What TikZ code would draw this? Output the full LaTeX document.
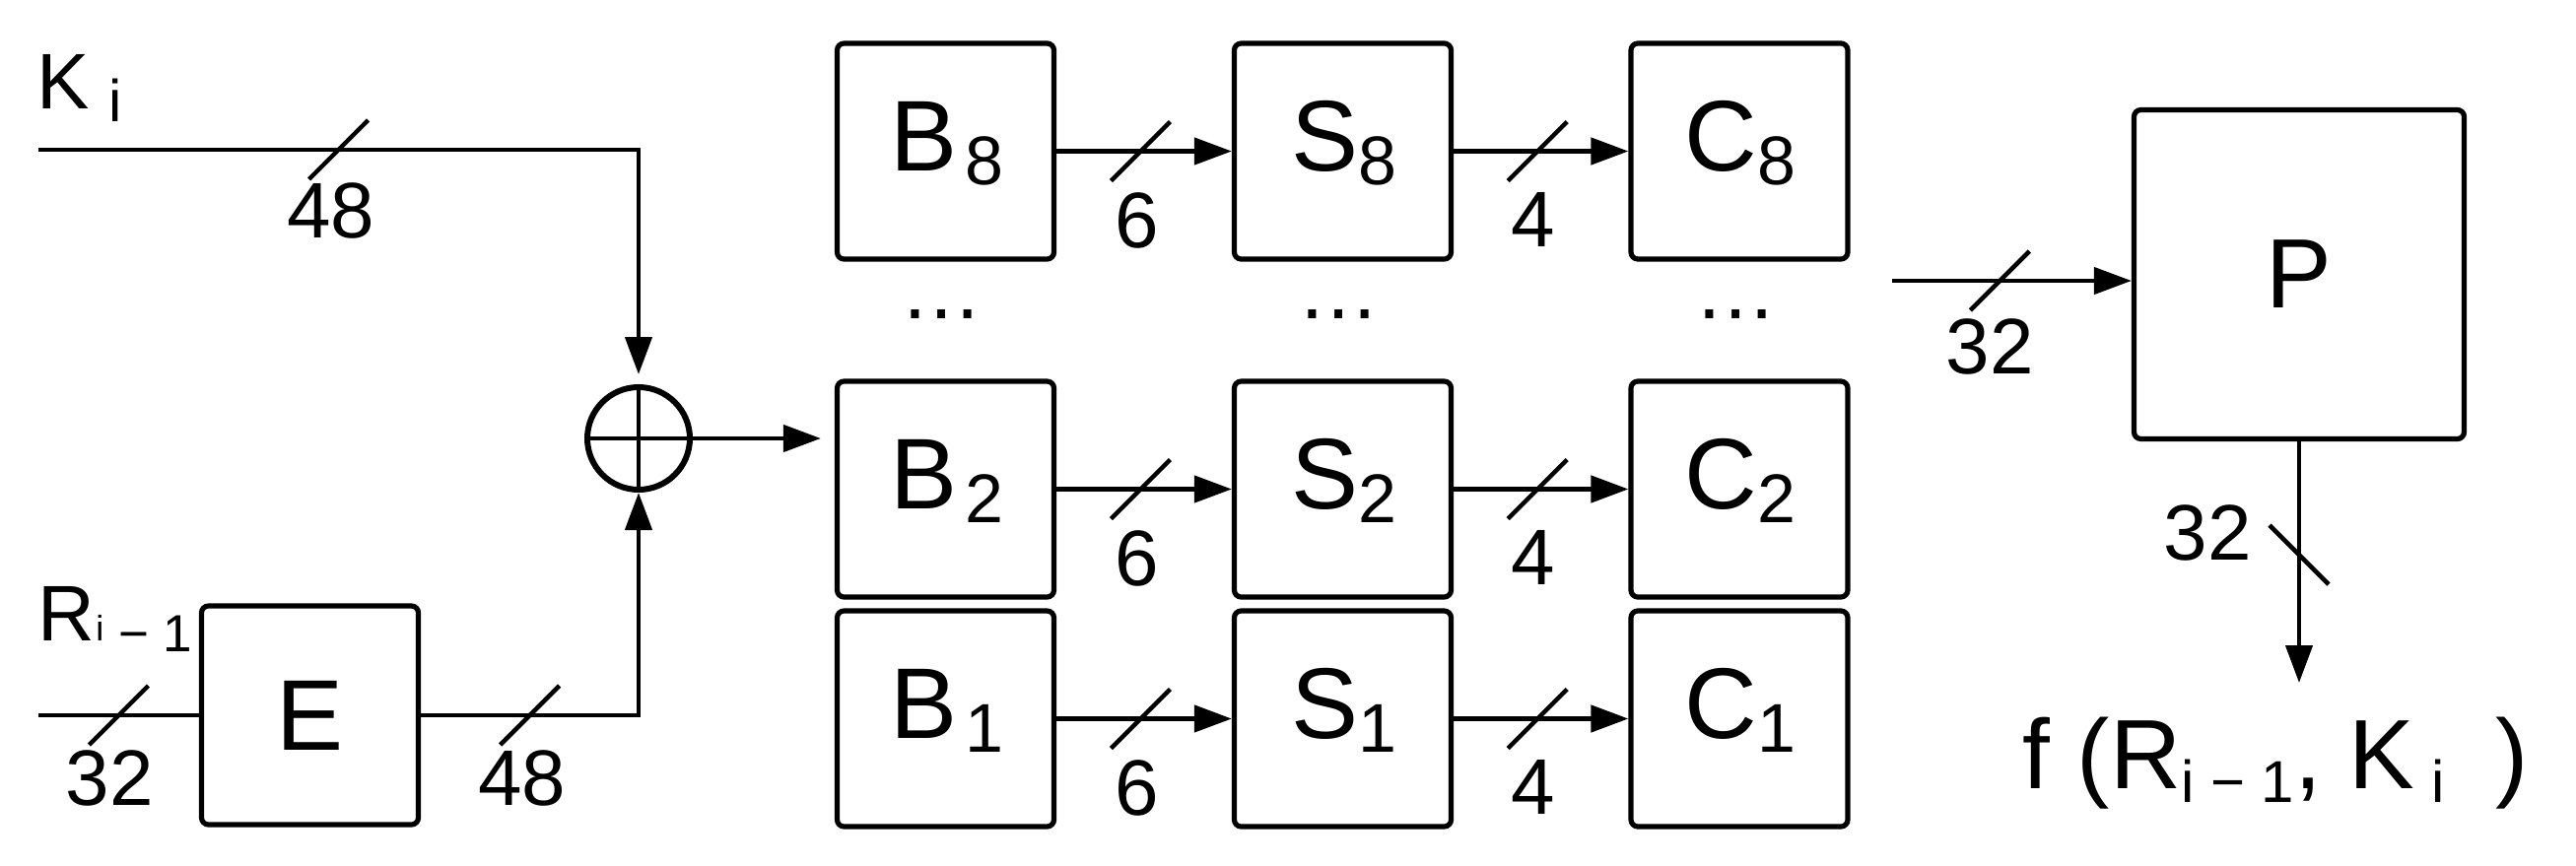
\documentclass[tikz,border=0pt]{standalone}
\usepackage{fontspec}
\setmainfont{Liberation Sans}
\usetikzlibrary{arrows.meta,calc}
\newcommand\blab[3]{{\fontsize{102}{102}\selectfont #1}\kern#3\raisebox{-14pt}{\fontsize{70}{70}\selectfont #2}}
\newcommand\fsub[1]{\raisebox{-14pt}{\fontsize{60}{60}\selectfont #1}}
\begin{document}
\begin{tikzpicture}[x=1pt,y=-1pt,
  box/.style={draw, line width=5.2pt, rounded corners=7pt, minimum width=220pt, minimum height=219pt, inner sep=0pt},
  conn/.style={line width=4.5pt},
  arr/.style={conn, -{Triangle[length=38pt,width=27pt]}},
  slashmark/.style={line width=4.5pt},
  lbl/.style={font=\fontsize{80}{80}\selectfont, inner sep=0pt},
  dots/.style={font=\fontsize{84}{84}\selectfont, inner sep=0pt, anchor=base}
]
\fill[white] (0,0) rectangle (2614,878);
\useasboundingbox (0,0) rectangle (2614,878);

% ---- boxes ----
\foreach \r/\y in {8/153.5, 2/496.5, 1/729.5}{
  \node[box] (B\r) at (959.5,\y) {};
  \node[box] (S\r) at (1362.5,\y) {};
  \node[box] (C\r) at (1765,\y) {};
}
\foreach \r/\b in {8/173, 2/516, 1/749}{
  \node[anchor=base, inner sep=0pt] (B\r t) at (961,\b) {\blab{B}{\r}{8pt}};
  \node[anchor=base, inner sep=0pt] (S\r t) at (1363.5,\b) {\blab{S}{\r}{0pt}};
  \node[anchor=base, inner sep=0pt] (C\r t) at (1766,\b) {\blab{C}{\r}{0pt}};
}
\node[dots] (dB) at (955.5,323) {…};
\node[dots] (dS) at (1358.5,323) {…};
\node[dots] (dC) at (1761,323) {…};

\node[box, minimum width=220pt, minimum height=222pt, font=\fontsize{102}{102}\selectfont] (E) at (314.5,726) {E};
\node[box, minimum width=335pt, minimum height=334pt, font=\fontsize{100}{100}\selectfont] (P) at (2333,278.5) {P};

\node[draw, circle, line width=6pt, minimum size=104pt, inner sep=0pt] (X) at (648,445) {};
\draw[line width=4pt] (X.north) -- (X.south) (X.west) -- (X.east);

% ---- input labels ----
\node[anchor=base west, inner sep=0pt] (Ki) at (37,110)
  {\fontsize{80}{80}\selectfont K\kern20pt\raisebox{-13pt}{\fontsize{60}{60}\selectfont i}};
\node[anchor=base west, inner sep=0pt] (Ri) at (38.5,650)
  {\fontsize{80}{80}\selectfont R\kern1pt{\fontsize{36}{36}\selectfont i}\raisebox{-11pt}{\fontsize{53}{53}\selectfont\ − 1}};

% ---- K input ----
\coordinate (kin) at (39,152);
\draw[arr, shorten >=10pt] (kin) -| (X.north);
\coordinate (ks) at ($(kin)!0.5!(kin -| X)$);
\draw[slashmark] (ks) ++(-30,30) -- ++(60,-60);
\node[lbl, anchor=north] (k48) at ($(ks)+(-8,33)$) {48};

% ---- R input and E ----
\coordinate (rin) at (39,726);
\draw[conn] (rin) -- (E.west);
\coordinate (rs) at ($(rin)!0.5!(E.west)$);
\draw[slashmark] (rs) ++(-30,30) -- ++(60,-60);
\node[lbl, anchor=north] (r32) at ($(rs)+(-9,35)$) {32};

\draw[arr] (E.east) -| (X.south);
\coordinate (es) at ($(E.east)!0.5!(E.east -| X)$);
\draw[slashmark] (es) ++(-30,30) -- ++(60,-60);
\node[lbl, anchor=north] (e48) at ($(es)+(-8,35)$) {48};

% ---- XOR to B2 ----
\draw[arr, shorten >=14pt] (X.east) -- (X.east -| B2.west);

% ---- rows ----
\foreach \r in {8,2,1}{
  \draw[arr] (B\r.east) -- (S\r.west);
  \coordinate (bs\r) at ($(B\r.east)!0.48!(S\r.west)$);
  \draw[slashmark] (bs\r) ++(-30,30) -- ++(60,-60);
  \node[lbl, anchor=north] (six\r) at ($(bs\r)+(-4,42)$) {6};
  \draw[arr] (S\r.east) -- (C\r.west);
  \coordinate (sc\r) at ($(S\r.east)!0.48!(C\r.west)$);
  \draw[slashmark] (sc\r) ++(-30,30) -- ++(60,-60);
  \node[lbl, anchor=north] (four\r) at ($(sc\r)+(-4,42)$) {4};
}

% ---- P input ----
\coordinate (pin) at (1920,285);
\draw[arr] (pin) -- (pin -| P.west);
\coordinate (ps) at ($(pin)!0.45!(pin -| P.west)$);
\draw[slashmark] (ps) ++(-30,30) -- ++(60,-60);
\node[lbl, anchor=north] (p32) at ($(ps)+(-10,38)$) {32};

% ---- P output ----
\coordinate (fout) at (2333,693);
\draw[arr] (P.south) -- (fout);
\coordinate (os) at ($(P.south)!0.47!(fout)$);
\draw[slashmark] (os) ++(-30,-30) -- ++(60,60);
\node[lbl, anchor=base east] (o32) at ($(os)+(-48,5)$) {32};

\node[anchor=base west, inner sep=0pt] (f) at (2052,800)
  {\fontsize{100}{100}\selectfont f\ (R\fsub{i − 1},\ K\fsub{\ i}\kern52pt)};
\end{tikzpicture}
\end{document}
